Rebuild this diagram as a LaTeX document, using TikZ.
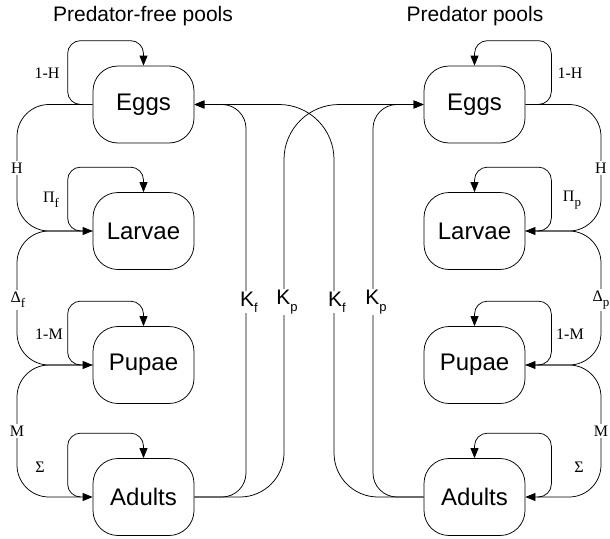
\documentclass[tikz,border=0pt]{standalone}
\usepackage{fontspec}
\setmainfont{Liberation Sans}
\newfontfamily\seriffam{Liberation Serif}
\usetikzlibrary{arrows.meta,calc}
\newcommand\lsub[1]{\raisebox{-0.3em}{\fontsize{13}{13}\selectfont #1}}
\begin{document}
\begin{tikzpicture}[x=1pt,y=-1pt,line width=0.75pt,
  box/.style={draw,rounded corners=25pt,minimum width=101pt,minimum height=77pt,inner sep=0pt,font=\fontsize{24}{24}\selectfont},
  flow/.style={-{Triangle[length=10pt,width=8pt]}},
  lbl/.style={font=\seriffam\fontsize{16}{16}\selectfont,inner sep=1pt},
  onl/.style={lbl,fill=white,inner sep=2pt},
  klbl/.style={font=\fontsize{21}{21}\selectfont,fill=white,inner sep=1pt},
  ttl/.style={font=\fontsize{21}{21}\selectfont}]
\useasboundingbox (0,0) rectangle (610,538);
% titles
\node[ttl] (t1) at (143,16) {Predator-free pools};
\node[ttl] (t2) at (475,16) {Predator pools};
% boxes
\node[box] (E1) at (143.5,104.5) {Eggs};
\node[box] (L1) at (143.5,231) {Larvae};
\node[box] (P1) at (143.5,365) {Pupae};
\node[box] (A1) at (143.5,497) {Adults};
\node[box] (E2) at (474.5,104.5) {Eggs};
\node[box] (L2) at (474.5,231) {Larvae};
\node[box] (P2) at (474.5,365) {Pupae};
\node[box] (A2) at (474.5,497) {Adults};
% left transitions
\draw[flow,rounded corners=32pt] (E1.west) -| (17,168) |- (L1.west);
\draw[flow,rounded corners=32pt] (L1.west) -| (17,300) |- (P1.west);
\draw[flow,rounded corners=32pt] (P1.west) -| (17,431) |- (A1.west);
% right transitions
\draw[flow,rounded corners=32pt] (E2.east) -| (601,168) |- (L2.east);
\draw[flow,rounded corners=32pt] (L2.east) -| (601,300) |- (P2.east);
\draw[flow,rounded corners=32pt] (P2.east) -| (601,431) |- (A2.east);
% self loops
\foreach \n in {E1,L1,P1,A1}{
  \draw[flow,rounded corners=13pt] ([xshift=-12pt]\n.west) -| ([xshift=-25pt,yshift=25pt]\n.north west) -| (\n.north);
}
\foreach \n in {E2,L2,P2,A2}{
  \draw[flow,rounded corners=13pt] ([xshift=12pt]\n.east) -| ([xshift=26pt,yshift=25pt]\n.north east) -| (\n.north);
}
% K connectors
\draw[flow] (A1.east) [rounded corners=24pt] -| (246,300) |- (E1.east);
\draw[flow] (A1.east) [rounded corners=44pt] -| (284,300) [rounded corners=55pt] |- (E2.west);
\draw[flow] (A2.west) [rounded corners=44pt] -| (334,300) [rounded corners=55pt] |- (E1.east);
\draw[flow] (A2.west) [rounded corners=24pt] -| (373,300) |- (E2.west);
% K labels
\node[klbl] (kf1) at (249,302) {K\lsub{f}};
\node[klbl] (kp1) at (287,302) {K\lsub{p}};
\node[klbl] (kf2) at (337,302) {K\lsub{f}};
\node[klbl] (kp2) at (376,302) {K\lsub{p}};
% left labels
\node[lbl] (a1) at (47,73) {1-H};
\node[onl] (a2) at (17,168) {H};
\node[lbl] (a3) at (51,200) {Π\lsub{f}};
\node[onl] (a4) at (18,300) {Δ\lsub{f}};
\node[lbl] (a5) at (49,334) {1-M};
\node[onl] (a6) at (17,431) {M};
\node[lbl] (a7) at (40,467) {Σ};
% right labels
\node[lbl] (b1) at (570,73) {1-H};
\node[onl] (b2) at (601,168) {H};
\node[lbl] (b3) at (572,200) {Π\lsub{p}};
\node[onl] (b4) at (601,300) {Δ\lsub{p}};
\node[lbl] (b5) at (570,334) {1-M};
\node[onl] (b6) at (601,431) {M};
\node[lbl] (b7) at (579,467) {Σ};
\end{tikzpicture}
\end{document}
